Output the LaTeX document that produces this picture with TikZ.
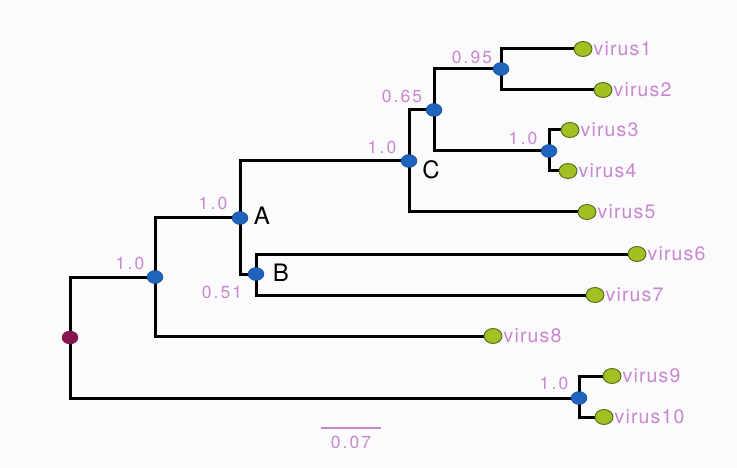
\documentclass[tikz,border=0pt]{standalone}
\usepackage{fontspec}
\setmainfont{TeX Gyre Heros}
\newfontfamily\leaffont{TeX Gyre Heros}[LetterSpace=6]
\newfontfamily\numfont{TeX Gyre Heros}[LetterSpace=12]
\usetikzlibrary{shapes.geometric,backgrounds}
\definecolor{lab}{RGB}{200,135,206}
\definecolor{nodeblue}{RGB}{30,100,190}
\definecolor{leafgreen}{RGB}{160,192,35}
\definecolor{leafedge}{RGB}{80,105,20}
\definecolor{rootpurple}{RGB}{135,20,80}
\definecolor{bg}{RGB}{251,251,253}
\tikzset{
  inode/.style={ellipse, fill=nodeblue, draw=nodeblue!70!black, line width=0.4pt, minimum width=16pt, minimum height=13pt, inner sep=0pt},
  rootnode/.style={ellipse, fill=rootpurple, draw=rootpurple!80!black, line width=0.4pt, minimum width=16pt, minimum height=13pt, inner sep=0pt},
  leaf/.style={ellipse, fill=leafgreen, draw=leafedge, line width=0.9pt, minimum width=18pt, minimum height=15pt, inner sep=0pt},
  leaflab/.style={text=lab, font=\leaffont\fontsize{19.5}{21}\selectfont, inner sep=1pt, anchor=west},
  support/.style={text=lab, font=\numfont\fontsize{17.5}{19}\selectfont, inner sep=0pt},
  clade/.style={text=black, font=\fontsize{24}{26}\selectfont, inner sep=0pt},
  branch/.style={draw=black, line width=3pt},
  scalebar/.style={draw=lab, line width=2pt}
}
\begin{document}
\begin{tikzpicture}[x=1pt,y=-1pt]
\useasboundingbox (0,0) rectangle (737,468);
% internal nodes
\node[rootnode] (r) at (70,337.5) {};
\node[inode] (n1) at (155,277) {};
\node[inode] (A) at (240,218) {};
\node[inode] (B) at (256,274) {};
\node[inode] (C) at (409,161) {};
\node[inode] (D) at (434,110) {};
\node[inode] (E) at (501,69) {};
\node[inode] (F) at (549,151) {};
\node[inode] (G) at (579,398) {};
% leaves
\node[leaf] (v1) at (583,49) {};
\node[leaf] (v2) at (603,90) {};
\node[leaf] (v3) at (570,130) {};
\node[leaf] (v4) at (568,171) {};
\node[leaf] (v5) at (587,212) {};
\node[leaf] (v6) at (637,254) {};
\node[leaf] (v7) at (595,295) {};
\node[leaf] (v8) at (493,336) {};
\node[leaf] (v9) at (612,376) {};
\node[leaf] (v10) at (604,417) {};
% branches
\begin{scope}[on background layer]
\fill[bg] (0,0) rectangle (737,468);
\draw[branch] (r.center) |- (n1.center);
\draw[branch] (r.center) |- (G.center);
\draw[branch] (n1.center) |- (A.center);
\draw[branch] (n1.center) |- (v8.center);
\draw[branch] (A.center) |- (C.center);
\draw[branch] (A.center) |- (B.center);
\draw[branch] (B.center) |- (v6.center);
\draw[branch] (B.center) |- (v7.center);
\draw[branch] (C.center) |- (D.center);
\draw[branch] (C.center) |- (v5.center);
\draw[branch] (D.center) |- (E.center);
\draw[branch] (D.center) |- (F.center);
\draw[branch] (E.center) |- (v1.center);
\draw[branch] (E.center) |- (v2.center);
\draw[branch] (F.center) |- (v3.center);
\draw[branch] (F.center) |- (v4.center);
\draw[branch] (G.center) |- (v9.center);
\draw[branch] (G.center) |- (v10.center);
\end{scope}
% leaf labels
\node[leaflab] (t1) at (v1.east) {virus1};
\node[leaflab] (t2) at (v2.east) {virus2};
\node[leaflab] (t3) at (v3.east) {virus3};
\node[leaflab] (t4) at (v4.east) {virus4};
\node[leaflab] (t5) at (v5.east) {virus5};
\node[leaflab] (t6) at (v6.east) {virus6};
\node[leaflab] (t7) at (v7.east) {virus7};
\node[leaflab] (t8) at (v8.east) {virus8};
\node[leaflab] (t9) at (v9.east) {virus9};
\node[leaflab] (t10) at (v10.east) {virus10};
% support values
\node[support] (sE) at (472,57) {0.95};
\node[support] (sD) at (402,96) {0.65};
\node[support] (sC) at (382,147) {1.0};
\node[support] (sF) at (523,138) {1.0};
\node[support] (sA) at (213,203) {1.0};
\node[support] (sn1) at (130,263) {1.0};
\node[support] (sB) at (222,292) {0.51};
\node[support] (sG) at (554,383) {1.0};
% clade letters
\node[clade] (lA) at (262,216) {A};
\node[clade] (lB) at (281,273) {B};
\node[clade] (lC) at (431,170) {C};
% scale bar
\coordinate (s1) at (321,428);
\coordinate (s2) at (381,428);
\draw[scalebar] (s1) -- (s2);
\node[support] (sc) at (351,442) {0.07};
\end{tikzpicture}
\end{document}
